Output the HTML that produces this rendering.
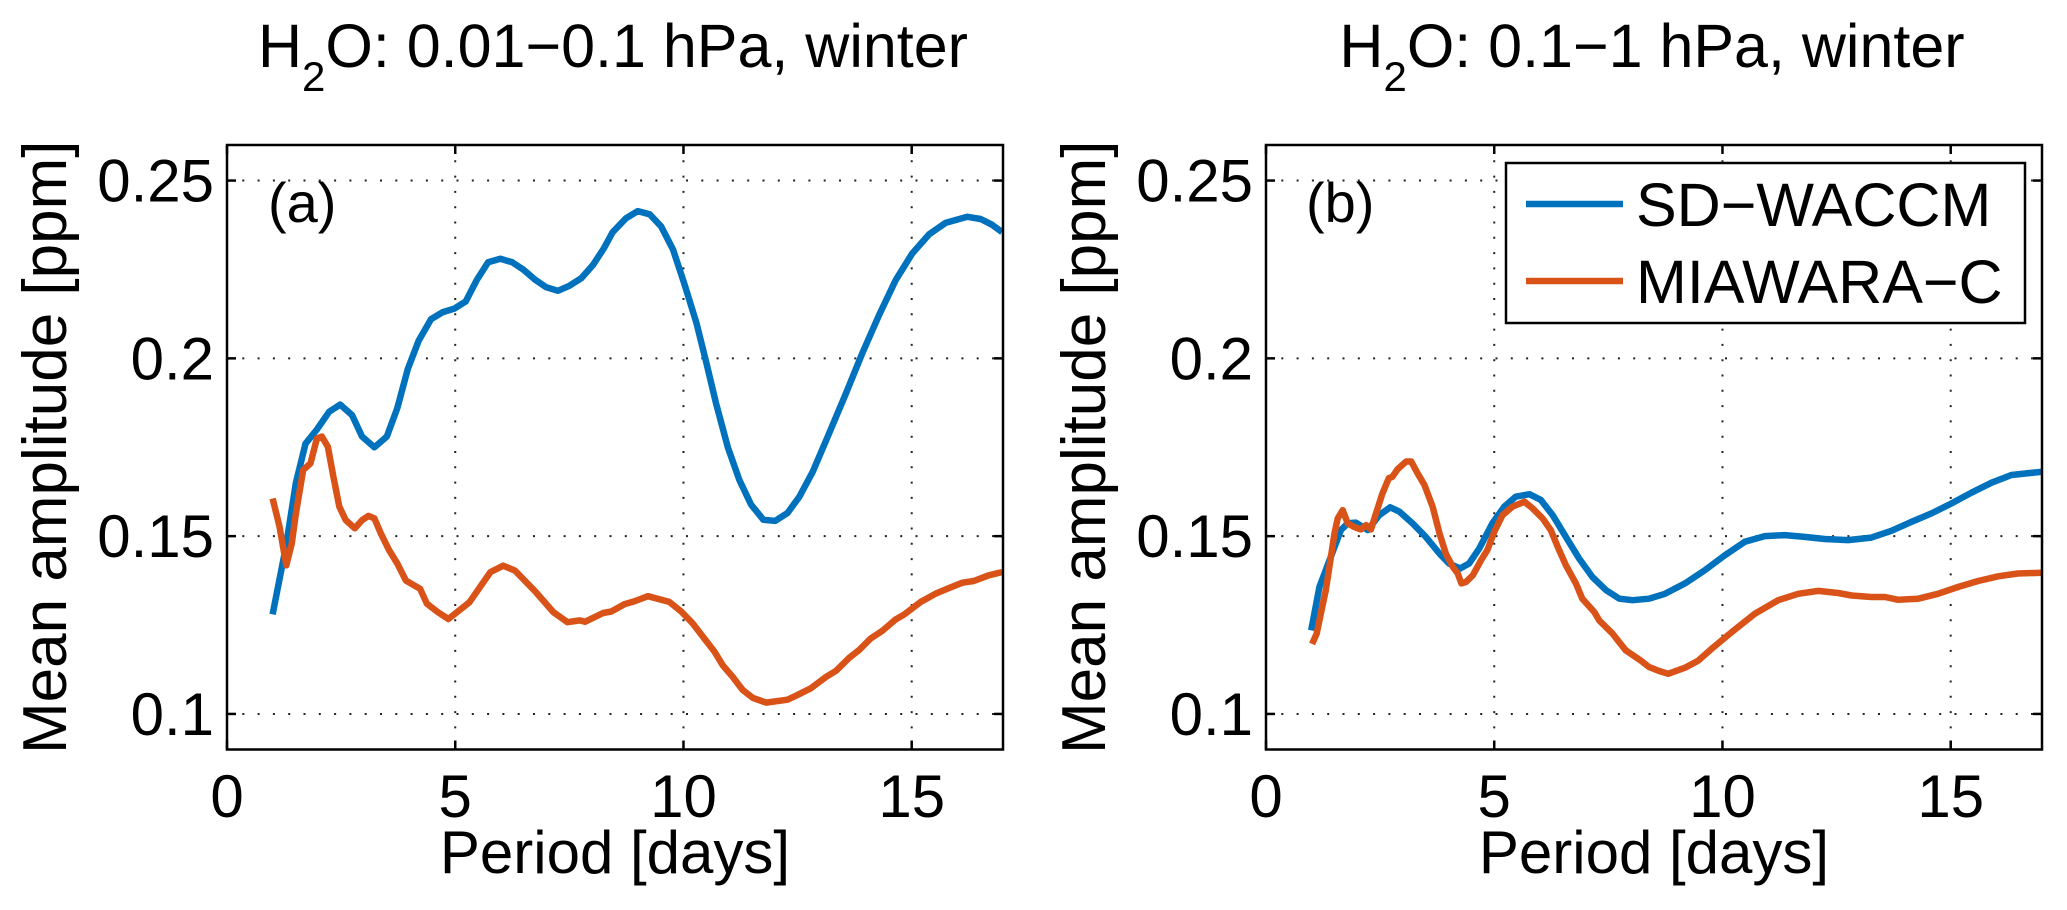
<!DOCTYPE html>
<html><head><meta charset="utf-8">
<style>
html,body{margin:0;padding:0;background:#fff;}
svg{display:block;font-family:"Liberation Sans",Arial,sans-serif;}
</style></head>
<body>
<svg id="fig" width="2067" height="910" viewBox="0 0 2067 910" xmlns="http://www.w3.org/2000/svg">
  <g id="panelA"></g>
  <g id="panelB"></g>
</svg>
<script>
// ---- data ----
const xTicks = [0, 5, 10, 15];
const yTicks = [0.1, 0.15, 0.2, 0.25];
const yTickLabels = ["0.1", "0.15", "0.2", "0.25"];
const xDomain = [0, 17];
const yDomain = [0.09, 0.26];

const aWaccmDays = [1.0,1.29,1.51,1.72,1.97,2.24,2.48,2.74,2.96,3.23,3.5,3.73,3.96,4.2,4.47,4.73,4.98,5.23,5.47,5.72,5.99,6.25,6.49,6.76,6.99,7.25,7.5,7.76,8.02,8.26,8.45,8.74,9.0,9.26,9.51,9.77,10.02,10.28,10.5,10.71,10.97,11.22,11.48,11.75,12.01,12.28,12.54,12.83,13.19,13.56,13.92,14.29,14.65,15.01,15.38,15.74,16.22,16.51,16.76,16.98];
const aWaccmVals = [0.128,0.147,0.165,0.176,0.180,0.185,0.187,0.184,0.178,0.175,0.178,0.186,0.197,0.205,0.211,0.213,0.214,0.216,0.222,0.227,0.228,0.227,0.225,0.222,0.220,0.219,0.2204,0.2225,0.2263,0.231,0.2355,0.2394,0.2414,0.2405,0.2371,0.2306,0.2209,0.2101,0.1988,0.1875,0.1751,0.1659,0.1589,0.1546,0.1543,0.1565,0.1611,0.1681,0.1789,0.1902,0.2015,0.2123,0.2220,0.2295,0.2349,0.2381,0.2398,0.2392,0.2376,0.2355];

const aMiaDays = [1.0,1.15,1.3,1.42,1.51,1.67,1.83,1.97,2.08,2.21,2.33,2.46,2.6,2.8,2.96,3.1,3.23,3.37,3.55,3.73,3.92,4.23,4.38,4.62,4.85,5.31,5.77,6.05,6.31,6.77,7.15,7.46,7.73,7.84,8.05,8.24,8.42,8.71,8.93,9.22,9.69,9.95,10.2,10.39,10.68,10.86,11.08,11.3,11.52,11.81,12.28,12.46,12.79,13.12,13.34,13.63,13.85,14.1,14.36,14.65,14.83,15.2,15.52,15.78,16.11,16.36,16.69,16.98];
const aMiaVals = [0.1606,0.1527,0.1418,0.148,0.1564,0.1686,0.1705,0.1775,0.178,0.1751,0.1667,0.1583,0.1545,0.1522,0.1545,0.1557,0.155,0.1508,0.1461,0.1423,0.1375,0.1352,0.131,0.1286,0.1267,0.1314,0.1399,0.1417,0.1403,0.1342,0.1286,0.1258,0.1263,0.1259,0.1272,0.1284,0.1288,0.1309,0.1317,0.1331,0.1315,0.1288,0.1255,0.1223,0.1175,0.1137,0.1104,0.1067,0.1045,0.1032,0.1040,0.1051,0.1072,0.1104,0.1121,0.1158,0.1180,0.1212,0.1234,0.1266,0.1279,0.1315,0.1338,0.1352,0.1369,0.1374,0.1390,0.1399];

const bWaccmDays = [0.99,1.17,1.42,1.64,1.79,1.97,2.23,2.48,2.72,2.92,3.21,3.5,3.8,4.01,4.25,4.45,4.67,4.96,5.22,5.47,5.77,6.02,6.28,6.57,6.86,7.15,7.45,7.74,8.03,8.39,8.74,9.18,9.61,10.05,10.49,10.93,11.37,11.8,12.24,12.75,13.26,13.7,14.14,14.58,15.02,15.45,15.89,16.33,16.99];
const bWaccmVals = [0.1235,0.1357,0.1442,0.1517,0.1536,0.1538,0.1517,0.1559,0.1581,0.1569,0.1536,0.1498,0.1451,0.1423,0.1409,0.1423,0.1465,0.1536,0.1583,0.1611,0.1618,0.1602,0.1559,0.1498,0.1437,0.1385,0.1348,0.1324,0.1320,0.1324,0.1338,0.1367,0.1404,0.1446,0.1484,0.15,0.1503,0.1498,0.1492,0.1489,0.1496,0.1515,0.154,0.1564,0.1592,0.1622,0.165,0.1672,0.1681];

const bMiaDays = [1.01,1.11,1.2,1.31,1.4,1.5,1.57,1.68,1.79,1.93,2.08,2.19,2.3,2.41,2.55,2.69,2.77,2.88,3.07,3.18,3.32,3.47,3.65,3.8,3.94,4.09,4.2,4.28,4.38,4.53,4.71,4.85,5.0,5.18,5.4,5.66,5.84,6.06,6.24,6.39,6.57,6.79,6.93,7.19,7.3,7.59,7.88,8.21,8.39,8.59,8.81,9.18,9.47,9.76,10.2,10.71,11.22,11.66,12.1,12.53,12.83,13.26,13.56,13.85,14.29,14.72,15.16,15.6,16.04,16.47,16.99];
const bMiaVals = [0.1197,0.1226,0.1282,0.1348,0.1423,0.1508,0.155,0.1573,0.1536,0.1526,0.1519,0.1531,0.1519,0.1564,0.162,0.1663,0.1667,0.1688,0.171,0.171,0.1677,0.1644,0.1583,0.1508,0.1451,0.1414,0.1395,0.1367,0.1371,0.139,0.1432,0.1461,0.1512,0.1559,0.1583,0.1597,0.1578,0.155,0.1517,0.147,0.1418,0.1367,0.1324,0.1287,0.1263,0.1226,0.1179,0.115,0.1132,0.1122,0.1113,0.113,0.115,0.1183,0.123,0.1282,0.132,0.1338,0.1346,0.134,0.1333,0.1329,0.1329,0.1321,0.1324,0.1338,0.1357,0.1374,0.1387,0.1395,0.1397];

// ---- drawing ----
const NS = "http://www.w3.org/2000/svg";
const BLUE = "#0072BD", ORANGE = "#D95319";
const TOP = 145, BOTTOM = 749.5, PW = 776;

function mk(tag, attrs, parent) {
  const e = document.createElementNS(NS, tag);
  for (const k in attrs) e.setAttribute(k, attrs[k]);
  parent.appendChild(e);
  return e;
}

function drawPanel(g, left, key, titleMain, series, showLegend) {
  const right = left + PW;
  const sx = d => left + (d - xDomain[0]) / (xDomain[1] - xDomain[0]) * PW;
  const sy = v => BOTTOM - (v - yDomain[0]) / (yDomain[1] - yDomain[0]) * (BOTTOM - TOP);

  // grid
  xTicks.forEach(t => {
    if (t === xDomain[0]) return;
    const l = mk("line", {x1: sx(t), x2: sx(t), y1: TOP, y2: BOTTOM, stroke: "#222", "stroke-width": 2, "stroke-dasharray": "2 13.3"}, g);
    
    
  });
  yTicks.forEach(t => {
    const l = mk("line", {x1: left, x2: right, y1: sy(t), y2: sy(t), stroke: "#222", "stroke-width": 2, "stroke-dasharray": "2 13.3"}, g);
    
    
  });

  // series
  series.forEach(s => {
    const pts = s.days.map((d, i) => sx(d).toFixed(1) + "," + sy(s.vals[i]).toFixed(1)).join(" ");
    const p = mk("polyline", {points: pts, fill: "none", stroke: s.color, "stroke-width": 6.5, "stroke-linejoin": "round", "stroke-linecap": "butt"}, g);
    
    
  });

  // ticks
  xTicks.forEach(t => {
    [[BOTTOM, BOTTOM - 9], [TOP, TOP + 9]].forEach(([a, b]) => {
      const l = mk("line", {x1: sx(t), x2: sx(t), y1: a, y2: b, stroke: "#000", "stroke-width": 2.5}, g);
      
      
    });
    const tx = mk("text", {x: sx(t), y: 817, "font-size": 60, "text-anchor": "middle"}, g);
    tx.textContent = String(t);
    
    
  });
  yTicks.forEach((t, i) => {
    [[left, left + 9], [right, right - 9]].forEach(([a, b]) => {
      const l = mk("line", {x1: a, x2: b, y1: sy(t), y2: sy(t), stroke: "#000", "stroke-width": 2.5}, g);
      
      
    });
    const tx = mk("text", {x: left - 13, y: sy(t) + 21, "font-size": 60, "text-anchor": "end"}, g);
    tx.textContent = yTickLabels[i];
    
    
  });

  // axes box
  const box = mk("rect", {x: left, y: TOP, width: PW, height: BOTTOM - TOP, fill: "none", stroke: "#000", "stroke-width": 2.5}, g);
  
  

  // panel letter
  const pl = mk("text", {x: left + (key === "a" ? 41 : 40), y: 222, "font-size": 56}, g);
  pl.textContent = "(" + key + ")";
  
  

  // title
  const cx = left + PW / 2;
  const title = mk("text", {x: cx - 2, y: 67, "font-size": 61, "text-anchor": "middle"}, g);
  
  
  const t1 = mk("tspan", {}, title); t1.textContent = "H";
  const t2 = mk("tspan", {"font-size": 42, dy: 24}, title); t2.textContent = "2";
  const t3 = mk("tspan", {dy: -24}, title); t3.textContent = titleMain;

  // x label
  const xl = mk("text", {x: cx, y: 873, "font-size": 60, "text-anchor": "middle"}, g);
  xl.textContent = "Period [days]";
  
  

  // y label
  const yx = left - 161, yy = (TOP + BOTTOM) / 2;
  const yl = mk("text", {x: yx, y: yy, "font-size": 62, "text-anchor": "middle", transform: "rotate(-90 " + yx + " " + yy + ")"}, g);
  yl.textContent = "Mean amplitude [ppm]";
  
  

  if (showLegend) {
    const lg = mk("g", {}, g);
    
    
    const r = mk("rect", {x: 1506, y: 163, width: 519, height: 160, fill: "#fff", stroke: "#000", "stroke-width": 2.5}, lg);
    
    
    [["SD\u2212WACCM", BLUE, 204], ["MIAWARA\u2212C", ORANGE, 281]].forEach(([lab, col, y]) => {
      const ln = mk("line", {x1: 1526, x2: 1623, y1: y, y2: y, stroke: col, "stroke-width": 6.5}, lg);
      
      
      const tx = mk("text", {x: 1636, y: y + 22, "font-size": 61}, lg);
      tx.textContent = lab;
      
      
    });
  }
}

drawPanel(document.getElementById("panelA"), 227, "a", "O: 0.01\u22120.1 hPa, winter", [
  {days: aWaccmDays, vals: aWaccmVals, color: BLUE, name: "sd-waccm-line"},
  {days: aMiaDays, vals: aMiaVals, color: ORANGE, name: "miawara-c-line"}
], false);
drawPanel(document.getElementById("panelB"), 1266, "b", "O: 0.1\u22121 hPa, winter", [
  {days: bWaccmDays, vals: bWaccmVals, color: BLUE, name: "sd-waccm-line"},
  {days: bMiaDays, vals: bMiaVals, color: ORANGE, name: "miawara-c-line"}
], true);
</script>
</body></html>
